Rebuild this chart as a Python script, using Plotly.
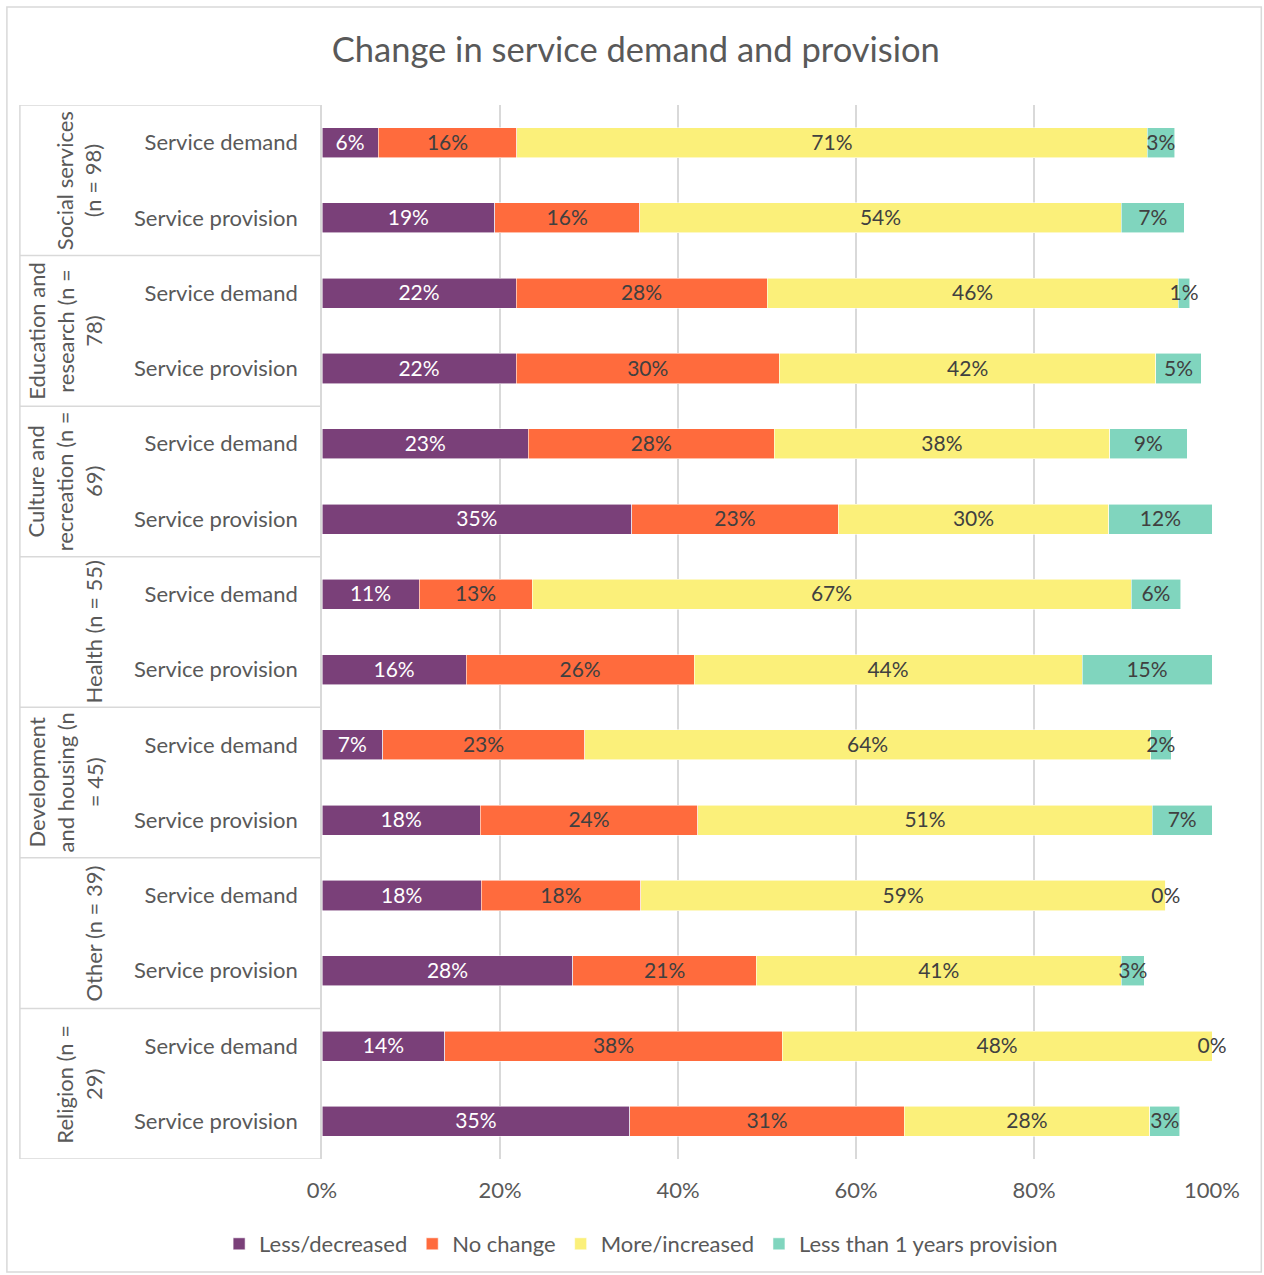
import numpy as np
import plotly.graph_objects as go

# Sector groups (display text wrapped over lines) and the two measures per sector
group_labels = [
    "Social services<br>(n = 98)",
    "Education and<br>research (n =<br>78)",
    "Culture and<br>recreation (n =<br>69)",
    "Health (n = 55)",
    "Development<br>and housing (n<br>= 45)",
    "Other (n = 39)",
    "Religion (n =<br>29)",
]
measures = ["Service demand", "Service provision"]

series_names = ["Less/decreased", "No change", "More/increased", "Less than 1 years provision"]
series_colors = ["#7A4079", "#FF6B3D", "#FBF07A", "#80D5BE"]
label_colors = ["#FFFFFF", "#404040", "#404040", "#404040"]

# Percent of respondents, rows ordered: group1 demand, group1 provision, group2 demand, ...
less_decreased = [6.3, 19.4, 21.8, 21.8, 23.2, 34.8, 10.9, 16.2, 6.8, 17.8, 17.9, 28.2, 13.8, 34.6]
no_change = [15.6, 16.3, 28.2, 29.6, 27.6, 23.2, 12.7, 25.6, 22.7, 24.4, 17.9, 20.6, 37.9, 30.8]
more_increased = [70.8, 54.1, 46.2, 42.3, 37.7, 30.4, 67.3, 43.6, 63.6, 51.1, 59.0, 41.0, 48.3, 27.6]
under_one_year = [3.1, 7.1, 1.3, 5.1, 8.7, 11.6, 5.6, 14.6, 2.3, 6.7, 0.0, 2.6, 0.0, 3.4]

series_values = [less_decreased, no_change, more_increased, under_one_year]

x_ticks = [0, 20, 40, 60, 80, 100]
x_tick_text = ["0%", "20%", "40%", "60%", "80%", "100%"]

n_rows = len(less_decreased)
rows = list(range(n_rows))
row_text = [measures[i % 2] for i in rows]

FONT = "Lato"
GREY = "#595959"
LINE = "#D9D9D9"
LABEL_NUDGE = 0.025  # small downward shift so label glyphs sit centred in the bar

fig = go.Figure()

# stacked bars
for name, vals, col in zip(series_names, series_values, series_colors):
    fig.add_trace(go.Bar(
        y=rows, x=vals, name=name, orientation="h",
        marker=dict(color=col, line=dict(color="rgba(255,255,255,0.7)", width=0.8)),
        width=0.4, hoverinfo="x+name",
    ))

# value labels centred on each segment (also shown for empty segments)
base = np.zeros(n_rows)
for vals, tcol in zip(series_values, label_colors):
    v = np.array(vals, dtype=float)
    mid = base + v / 2
    fig.add_trace(go.Scatter(
        x=mid, y=np.array(rows) + LABEL_NUDGE, mode="text",
        text=[f"{val:.0f}%" for val in v],
        textposition="middle center",
        textfont=dict(family=FONT, size=21, color=tcol),
        showlegend=False, hoverinfo="skip", cliponaxis=False,
    ))
    base = base + v

# plot area in pixels
L, R, T, B = 322, 1211.7, 105, 1159
W, H = 1264, 1275
pw, ph = R - L, B - T


def px_x(p):
    return (p - L) / pw


def px_y(p):
    return (B - p) / ph


shapes = []
# group dividers on the category axis
for k in range(len(group_labels) + 1):
    yb = -0.5 + 2 * k
    shapes.append(dict(type="line", xref="paper", yref="y", x0=px_x(20), x1=0, y0=yb, y1=yb,
                       line=dict(color=LINE, width=1.5)))
shapes.append(dict(type="line", xref="paper", yref="y", x0=px_x(20), x1=px_x(20), y0=-0.5, y1=n_rows - 0.5,
                   line=dict(color=LINE, width=1.5)))
# chart border
shapes.append(dict(type="rect", xref="paper", yref="paper", x0=px_x(7), x1=px_x(1261), y0=px_y(1272), y1=px_y(7),
                   line=dict(color=LINE, width=1.5), fillcolor="rgba(0,0,0,0)", layer="below"))

annotations = []
for k, g in enumerate(group_labels):
    annotations.append(dict(
        text=g, xref="paper", yref="y", x=px_x(109), y=2 * k + 0.5,
        xanchor="right", yanchor="middle", textangle=-90, align="center",
        showarrow=False, font=dict(family=FONT, size=22, color=GREY),
    ))

fig.update_layout(
    width=W, height=H,
    margin=dict(l=L, r=W - R, t=T, b=H - B, autoexpand=False),
    paper_bgcolor="white", plot_bgcolor="white",
    barmode="stack", bargap=0.6,
    font=dict(family=FONT, size=22, color=GREY),
    title=dict(text="Change in service demand and provision", xref="container", x=0.503,
               yref="container", y=1 - 50 / H, xanchor="center", yanchor="middle",
               font=dict(family=FONT, size=34.5, color=GREY)),
    xaxis=dict(range=[0, 100], tickvals=x_ticks, ticktext=x_tick_text,
               showgrid=True, gridcolor=LINE, gridwidth=1.5, zeroline=False,
               showline=False, ticks="", ticklabelstandoff=16,
               tickfont=dict(family=FONT, size=22, color=GREY), fixedrange=True),
    yaxis=dict(range=[n_rows - 0.5, -0.5], tickvals=rows, ticktext=row_text,
               showgrid=False, zeroline=False, showline=True, linecolor=LINE, linewidth=1.5,
               ticks="", ticklabelstandoff=18,
               tickfont=dict(family=FONT, size=22, color=GREY), fixedrange=True),
    legend=dict(orientation="h", x=px_x(641), xanchor="center", y=px_y(1244), yanchor="middle",
                font=dict(family=FONT, size=22, color=GREY), traceorder="normal"),
    shapes=shapes, annotations=annotations,
    showlegend=True,
)

fig.write_html("out.html")
